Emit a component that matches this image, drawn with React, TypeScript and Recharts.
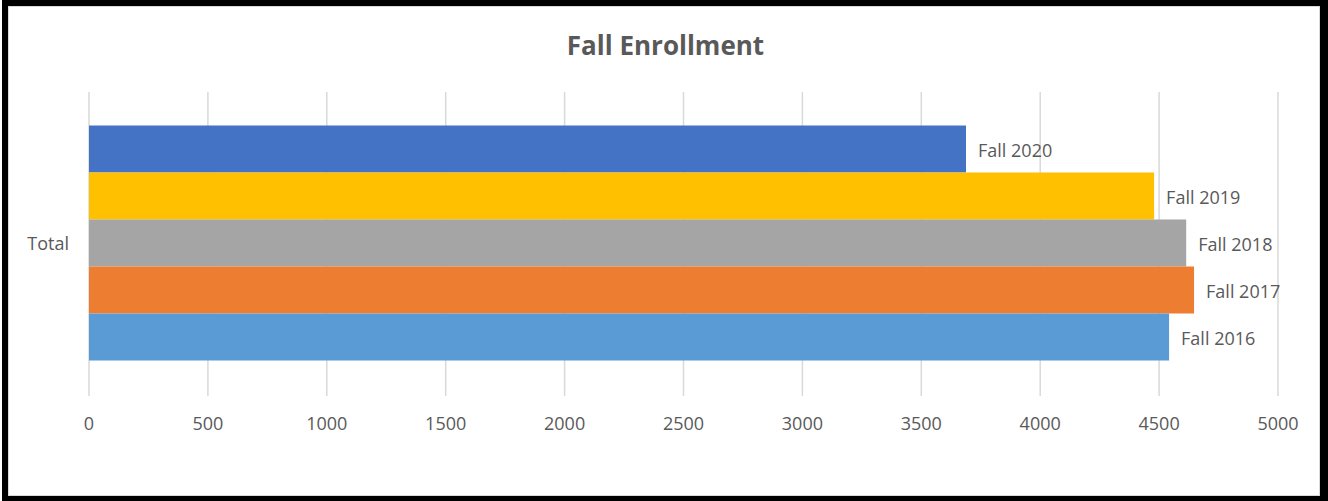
import React from "react";
import {
  BarChart,
  Bar,
  XAxis,
  YAxis,
  CartesianGrid,
  LabelList,
} from "recharts";

// one category, one bar per fall term (top to bottom as drawn)
const categories = ["Total"];
const seriesNames = ["Fall 2020", "Fall 2019", "Fall 2018", "Fall 2017", "Fall 2016"];
const seriesValues = [3688, 4479, 4614, 4647, 4542];
const seriesColors = ["#4472C4", "#FFC000", "#A5A5A5", "#ED7D31", "#5B9BD5"];
const xTicks = [0, 500, 1000, 1500, 2000, 2500, 3000, 3500, 4000, 4500, 5000];

const data = categories.map((name) => {
  const row: Record<string, string | number> = { name };
  seriesNames.forEach((s, i) => {
    row[s] = seriesValues[i];
  });
  return row;
});

const FONT = "'Open Sans', 'Noto Sans', sans-serif";
const TEXT = "#595959";

const App = () => {
  return (
    <div
      style={{
        position: "absolute",
        left: 0,
        top: 0,
        width: 1328,
        height: 501,
        background: "#fff",
        fontFamily: FONT,
      }}
    >
      <div
        style={{
          position: "absolute",
          left: 2,
          top: 0,
          right: 0,
          bottom: 0,
          borderTop: "6px solid #000",
          borderLeft: "6px solid #000",
          borderRight: "8px solid #000",
          borderBottom: "5px solid #000",
        }}
      >
        <div
          style={{
            position: "absolute",
            inset: 0,
            border: "1px solid #d9d9d9",
          }}
        />
      </div>
      <div
        style={{
          position: "absolute",
          left: 0,
          top: 28,
          width: 1331,
          textAlign: "center",
          fontSize: 26,
          fontWeight: 700,
          color: TEXT,
          lineHeight: "34px",
        }}
      >
        Fall Enrollment
      </div>
      <div style={{ position: "absolute", left: 0, top: 0 }}>
        <BarChart
          width={1328}
          height={501}
          data={data}
          layout="vertical"
          margin={{ top: 92, right: 50, bottom: 65, left: 9 }}
          barCategoryGap="11%"
          barGap={0}
        >
          <CartesianGrid horizontal={false} stroke="#d9d9d9" strokeWidth={1.5} />
          <XAxis
            type="number"
            domain={[0, 5000]}
            ticks={xTicks}
            interval={0}
            axisLine={false}
            tickLine={false}
            tickSize={0}
            tickMargin={21}
            height={40}
            tick={{ fill: TEXT, fontSize: 18, fontFamily: FONT }}
          />
          <YAxis
            type="category"
            dataKey="name"
            width={80}
            axisLine={false}
            tickLine={false}
            tickSize={0}
            tickMargin={20}
            tick={{ fill: TEXT, fontSize: 18, fontFamily: FONT }}
          />
          {seriesNames.map((s, i) => (
            <Bar
              key={s}
              dataKey={s}
              fill={seriesColors[i]}
              isAnimationActive={false}
            >
              <LabelList
                dataKey={s}
                position="right"
                offset={12}
                dy={2}
                formatter={() => s}
                fill={TEXT}
                fontSize={18}
                fontFamily={FONT}
              />
            </Bar>
          ))}
        </BarChart>
      </div>
    </div>
  );
};

export default App;
